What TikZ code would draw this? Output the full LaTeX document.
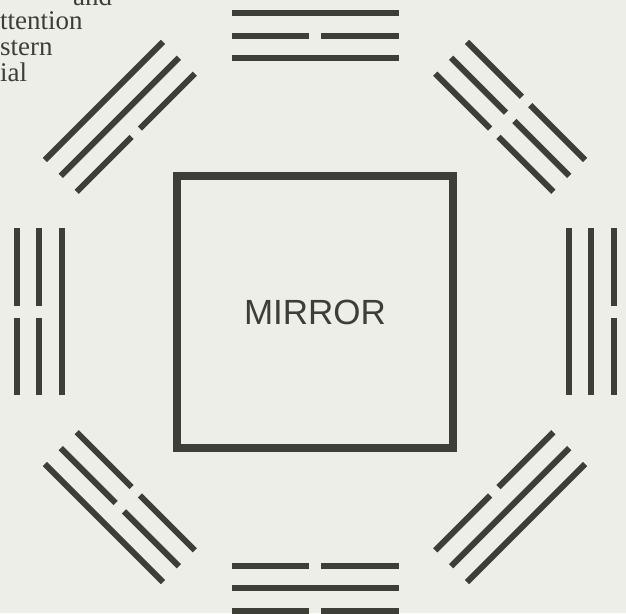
\documentclass[tikz,border=0pt]{standalone}
\usepackage{fontspec}
\setmainfont{Liberation Serif}
\newfontfamily\signfont{Liberation Sans}
\usepackage{tikz}
\usetikzlibrary{positioning}
\definecolor{ink}{RGB}{62,62,56}
\definecolor{paper}{RGB}{238,238,232}

\begin{document}
\begin{tikzpicture}[x=1pt,y=1pt,
    bar/.style={ink,line width=6pt},
    yang/.style={},
    yin/.style={dash pattern=on 77.5pt off 12pt},
    m/.style={draw=ink,line width=8.5pt,minimum width=276pt,minimum height=272pt,
      font=\signfont\fontsize{35}{35}\selectfont,text=ink},
    t/.style={anchor=base west,inner sep=0pt,font=\fontsize{27}{27}\selectfont,text=ink}]
    \fill[paper] (0,0) rectangle (626,613);
    \useasboundingbox (0,0) rectangle (626,613);
    \node[m] (mirror) at (315,301) {MIRROR};
    % trigrams: angle / inner / middle / outer line
    \foreach \a/\i/\j/\k in {90/yang/yin/yang, 45/yin/yin/yin, 0/yang/yang/yin,
        -45/yin/yang/yang, -90/yin/yang/yin, -135/yin/yin/yang,
        180/yang/yin/yin, 135/yin/yang/yang}{
      \begin{scope}[shift={(mirror.center)},rotate=\a-90]
        \draw[bar,\i] (-83.5,253.5) -- (83.5,253.5);
        \draw[bar,\j] (-83.5,276) -- (83.5,276);
        \draw[bar,\k] (-83.5,298.5) -- (83.5,298.5);
      \end{scope}}
    % page text at the left edge
    \node[t] (w1) at (73,607) {and};
    \node[t] (w2) at (0,583) {ttention};
    \node[t] (w3) at (0,557) {stern};
    \node[t] (w4) at (0,531) {ial};
\end{tikzpicture}
\end{document}
